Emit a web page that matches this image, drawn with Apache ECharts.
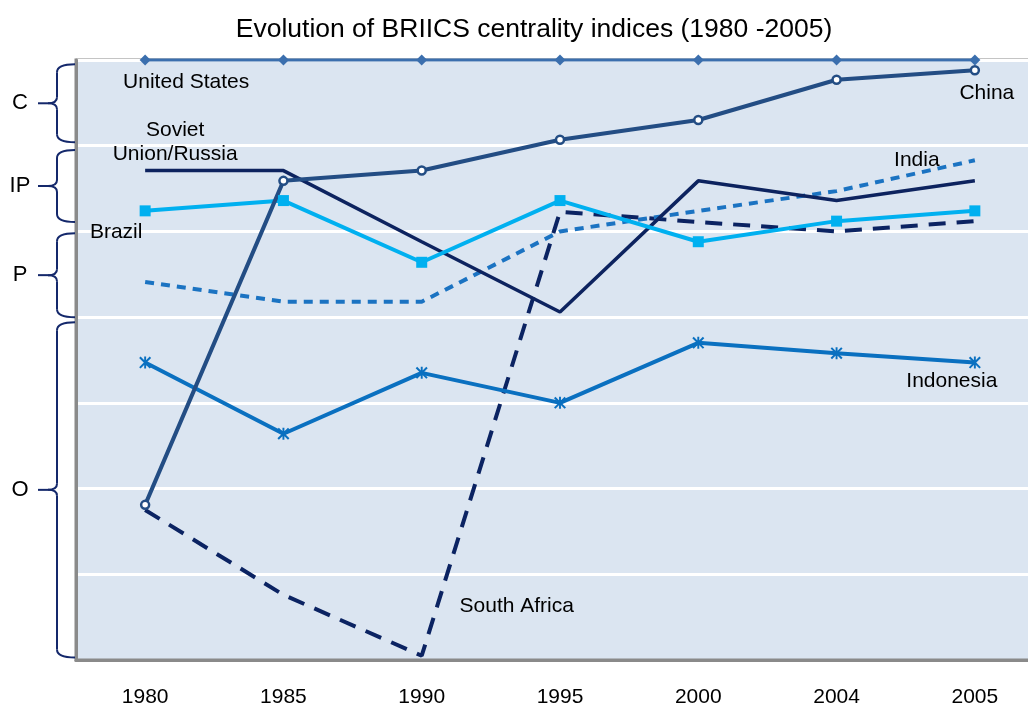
<!DOCTYPE html>
<html>
<head>
<meta charset="utf-8">
<script src="https://cdn.jsdelivr.net/npm/echarts@6/dist/echarts.min.js"></script>
<style>html,body{margin:0;padding:0;background:#fff}#c{width:1028px;height:707px}</style>
</head>
<body>
<div id="c"></div>
<script>
const categories = ['1980','1985','1990','1995','2000','2004','2005'];
const unitedStates = [7,7,7,7,7,7,7];
const china = [1.81,5.59,5.71,6.07,6.30,6.77,6.88];
const sovietRussia = [5.71,5.71,4.88,4.06,5.59,5.36,5.59];
const brazil = [5.24,5.36,4.64,5.36,4.88,5.12,5.24];
const india = [4.41,4.18,4.18,5.00,5.24,5.47,5.83];
const indonesia = [3.47,2.64,3.35,3.00,3.70,3.58,3.47];
const southAfrica = [1.75,0.76,0.05,5.23,5.11,5.00,5.12];

const bandNames = ['C','IP','P','O'];
const bandTop = [6.95,5.95,4.98,3.94];
const bandBottom = [6.04,5.11,4.00,0.03];

const seriesNames = ['United States','China','Soviet\nUnion/Russia','India','Brazil','Indonesia','South Africa'];
// label anchors: category index + series point, plus pixel offset
const labelAnchorCat = [0,6,0,6,0,6,2];
const labelAnchorSeries = [unitedStates,china,sovietRussia,india,brazil,indonesia,southAfrica];
const labelOffset = [[41,22],[12,23],[30,-28],[-58,0],[-29,21],[-23,19],[95,-50]];

const FONT = '"Liberation Sans", Arial, sans-serif';
const chart = echarts.init(document.getElementById('c'));
const asterisk = 'path://M4.2,0h1.6v10h-1.6z M0,1.2 L1.2,0 L10,8.8 L8.8,10z M8.8,0 L10,1.2 L1.2,10 L0,8.8z';

chart.setOption({
  animation: false,
  title: {
    text: 'Evolution of BRIICS centrality indices (1980 -2005)',
    left: 529, top: 11, textAlign: 'center',
    textStyle: {fontFamily: FONT, fontSize: 26.5, fontWeight: 'normal', color: '#000'}
  },
  grid: {
    left: 76, top: 60, width: 968, height: 600, outerBoundsMode: 'none', containLabel: false,
    show: true, backgroundColor: '#dbe5f1', borderColor: '#8a8a8a', borderWidth: 3
  },
  xAxis: {
    type: 'category', data: categories, boundaryGap: true,
    axisLine: {lineStyle: {color: '#8a8a8a', width: 3}},
    axisTick: {inside: true, length: 6, interval: 0, lineStyle: {color: '#8a8a8a', width: 2}},
    axisLabel: {margin: 27, fontFamily: FONT, fontSize: 21, color: '#000', interval: 0}
  },
  yAxis: {
    type: 'value', min: 0, max: 7, interval: 1,
    axisLine: {show: true, lineStyle: {color: '#8a8a8a', width: 3}},
    axisTick: {show: false},
    axisLabel: {show: false},
    splitLine: {lineStyle: {color: '#ffffff', width: 3}}
  },
  series: [
    {name: 'South Africa', type: 'line', data: southAfrica, clip: false, symbol: 'none',
      lineStyle: {color: '#0b2362', width: 4, type: [17, 11]}},
    {name: 'India', type: 'line', data: india, clip: false, symbol: 'none',
      lineStyle: {color: '#1b73c2', width: 4, type: [9, 7]}},
    {name: 'Soviet Union/Russia', type: 'line', data: sovietRussia, clip: false, symbol: 'none',
      lineStyle: {color: '#0d235f', width: 3.5}},
    {name: 'Brazil', type: 'line', data: brazil, clip: false, symbol: 'rect', symbolSize: 11,
      itemStyle: {color: '#00b0f0'}, lineStyle: {color: '#00b0f0', width: 4}},
    {name: 'Indonesia', type: 'line', data: indonesia, clip: false, symbol: asterisk, symbolSize: 12,
      itemStyle: {color: '#0a70c0'}, lineStyle: {color: '#0a70c0', width: 4}},
    {name: 'China', type: 'line', data: china, clip: false, symbol: 'circle', symbolSize: 8,
      itemStyle: {color: '#ffffff', borderColor: '#234d84', borderWidth: 2.5}, lineStyle: {color: '#234d84', width: 4}},
    {name: 'United States', type: 'line', data: unitedStates, clip: false, symbol: 'diamond', symbolSize: 11,
      itemStyle: {color: '#3b6fae'}, lineStyle: {color: '#3b6fae', width: 3}}
  ]
});

const graphics = [];
const braceStyle = {fill: null, stroke: '#14286b', lineWidth: 2};
function seg(x1, y1, x2, y2) {
  return {type: 'line', shape: {x1, y1, x2, y2}, style: braceStyle, z: 100};
}
function curve(x1, y1, cx, cy, x2, y2) {
  return {type: 'bezierCurve', shape: {x1, y1, cpx1: cx, cpy1: cy, x2, y2}, style: braceStyle, z: 100};
}
for (let i = 0; i < bandNames.length; i++) {
  const top = chart.convertToPixel({yAxisIndex: 0}, bandTop[i]);
  const bot = chart.convertToPixel({yAxisIndex: 0}, bandBottom[i]);
  const mid = (top + bot) / 2;
  const xr = 75, xv = 57, xm = 38;
  graphics.push(curve(xr, top, xv, top, xv, top + 8));
  graphics.push(seg(xv, top + 8, xv, mid - 6));
  graphics.push(curve(xv, mid - 6, xv, mid, xm + 10, mid));
  graphics.push(seg(xm + 10, mid, xm, mid));
  graphics.push(curve(xm + 10, mid, xv, mid, xv, mid + 6));
  graphics.push(seg(xv, mid + 6, xv, bot - 8));
  graphics.push(curve(xv, bot - 8, xv, bot, xr, bot));
  graphics.push({type: 'text', x: 20, y: mid, style: {text: bandNames[i], font: '22px ' + FONT, fill: '#000',
    align: 'center', verticalAlign: 'middle'}, z: 100});
}
for (let i = 0; i < seriesNames.length; i++) {
  const c = labelAnchorCat[i];
  const p = chart.convertToPixel({gridIndex: 0}, [c, labelAnchorSeries[i][c]]);
  graphics.push({type: 'text', x: p[0] + labelOffset[i][0], y: p[1] + labelOffset[i][1],
    style: {text: seriesNames[i], font: '21px ' + FONT, fill: '#000', align: 'center', verticalAlign: 'middle', lineHeight: 24}, z: 100});
}
chart.setOption({graphic: graphics});
</script>
</body>
</html>
